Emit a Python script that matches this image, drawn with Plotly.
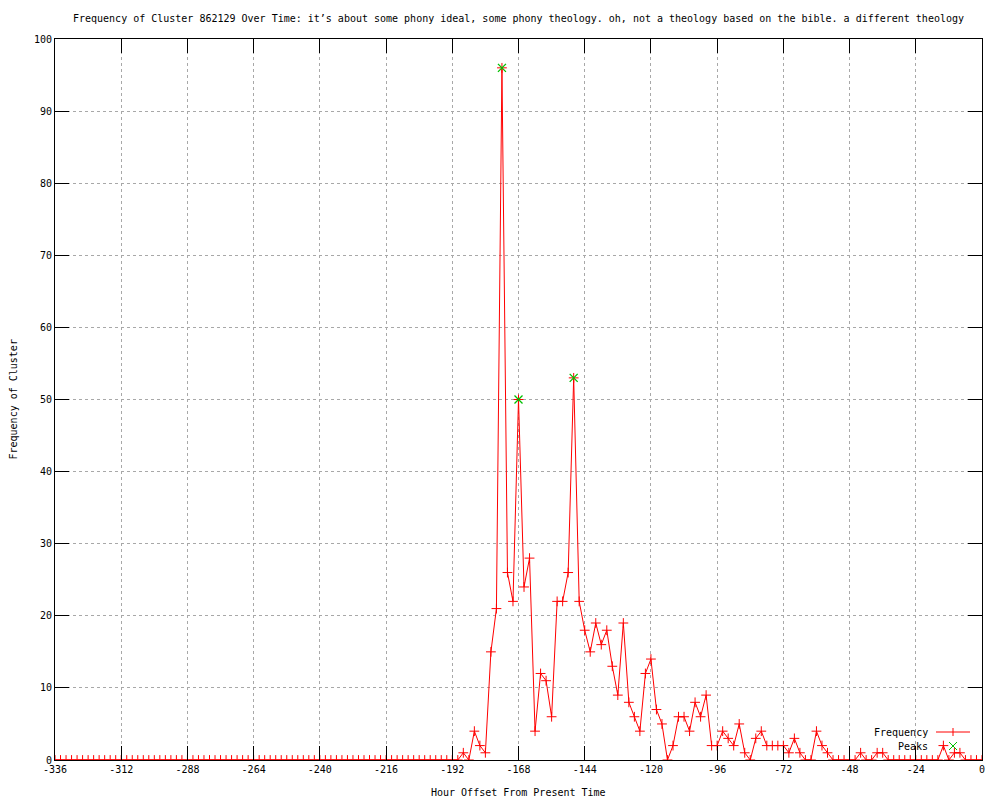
import plotly.graph_objects as go

# hour offsets, sampled every 2 hours
hours = list(range(-336, 1, 2))

# frequency values from -188 to -10 (everything else is zero)
active_start = -188
active_values = [
    1, 0, 4, 2, 1, 15, 21, 96, 26, 22,      # -188 .. -170
    50, 24, 28, 4, 12, 11, 6, 22, 22, 26,   # -168 .. -150
    53, 22, 18, 15, 19, 16, 18, 13, 9, 19,  # -148 .. -130
    8, 6, 4, 12, 14, 7, 5, 0, 2, 6,         # -128 .. -110
    6, 4, 8, 6, 9, 2, 2, 4, 3, 2,           # -108 .. -90
    5, 1, 0, 3, 4, 2, 2, 2, 2, 1,           # -88 .. -70
    3, 1, 0, 0, 4, 2, 1, 0, 0, 0,           # -68 .. -50
    0, 0, 1, 0, 0, 1, 1, 0, 0, 0,           # -48 .. -30
    0, 0, 0, 0, 0, 0, 0, 2, 0, 1,           # -28 .. -10
    1,                                      # -10
]

peak_hours = [-174, -168, -148]
peak_values = [96, 50, 53]

x_ticks = list(range(-336, 1, 24))
y_ticks = list(range(0, 101, 10))

title_text = ("Frequency of Cluster 862129 Over Time: it\u2019s about some phony ideal, "
              "some phony theology. oh, not a theology based on the bible. a different theology")

freq = [0] * len(hours)
for i, v in enumerate(active_values):
    idx = hours.index(active_start + 2 * i)
    freq[idx] = v

FONT = "DejaVu Sans Mono"
GREEN = "#00c000"

fig = go.Figure()
fig.add_trace(go.Scatter(
    x=hours, y=freq, mode="lines+markers", name="Frequency",
    line=dict(color="red", width=1),
    marker=dict(symbol="cross-thin-open", size=7, color="red",
                line=dict(width=1, color="red")),
))
fig.add_trace(go.Scatter(
    x=peak_hours, y=peak_values, mode="markers", name="Peaks",
    marker=dict(symbol="x-thin-open", size=8, color=GREEN,
                line=dict(width=1.3, color=GREEN)),
))

axis_common = dict(
    showline=True, linecolor="black", linewidth=1, mirror="ticks",
    ticks="inside", ticklen=14, tickcolor="black", tickwidth=1,
    showgrid=True, gridcolor="#a8a8a8", griddash="dot", gridwidth=1,
    zeroline=False, tickfont=dict(family=FONT, size=10, color="black"),
)

fig.update_xaxes(range=[-336, 0], tickvals=x_ticks, ticktext=[str(t) for t in x_ticks],
                 **axis_common)
fig.update_yaxes(range=[0, 100], tickvals=y_ticks, **axis_common)

# gnuplot-style legend: text on the left, sample on the right
legend_x_text = (930 - 55) / 927
y_freq = (760 - 732) / 721
y_peak = (760 - 746) / 721
x0 = (936 - 55) / 927
x1 = (970 - 55) / 927
xm = (953 - 55) / 927

annotations = [
    dict(text="Frequency", x=legend_x_text, y=y_freq, xref="paper", yref="paper",
         xanchor="right", yanchor="middle", showarrow=False,
         font=dict(family=FONT, size=10, color="black")),
    dict(text="Peaks", x=legend_x_text, y=y_peak, xref="paper", yref="paper",
         xanchor="right", yanchor="middle", showarrow=False,
         font=dict(family=FONT, size=10, color="black")),
    dict(text="Hour Offset From Present Time", x=0.5, y=-(792 - 760) / 721,
         xref="paper", yref="paper", xanchor="center", yanchor="middle",
         showarrow=False, font=dict(family=FONT, size=10, color="black")),
    dict(text="Frequency of Cluster", x=-(55 - 13) / 927, y=0.5, textangle=-90,
         xref="paper", yref="paper", xanchor="center", yanchor="middle",
         showarrow=False, font=dict(family=FONT, size=10, color="black")),
]

shapes = [
    dict(type="line", xref="paper", yref="paper", x0=x0, x1=x1, y0=y_freq, y1=y_freq,
         line=dict(color="red", width=1)),
    dict(type="line", xref="paper", yref="paper", x0=xm, x1=xm,
         y0=y_freq - 4 / 721, y1=y_freq + 4 / 721, line=dict(color="red", width=1)),
    dict(type="line", xref="paper", yref="paper", x0=xm - 4 / 927, x1=xm + 4 / 927,
         y0=y_peak - 4 / 721, y1=y_peak + 4 / 721, line=dict(color=GREEN, width=1)),
    dict(type="line", xref="paper", yref="paper", x0=xm - 4 / 927, x1=xm + 4 / 927,
         y0=y_peak + 4 / 721, y1=y_peak - 4 / 721, line=dict(color=GREEN, width=1)),
]

fig.update_layout(
    width=1000, height=800,
    margin=dict(l=55, r=18, t=39, b=40),
    paper_bgcolor="white", plot_bgcolor="white",
    showlegend=False,
    title=dict(text=title_text, x=(55 + 982) / 2 / 1000, xanchor="center",
               y=1 - 18 / 800, yanchor="middle",
               font=dict(family=FONT, size=10, color="black")),
    annotations=annotations,
    shapes=shapes,
    font=dict(family=FONT, size=10, color="black"),
)

# drop the page's default body margin so the figure sits at the window's corner
fig.write_html("out.html", config={"displayModeBar": False},
               post_script="document.body.style.margin='0';document.body.style.overflow='hidden';")
